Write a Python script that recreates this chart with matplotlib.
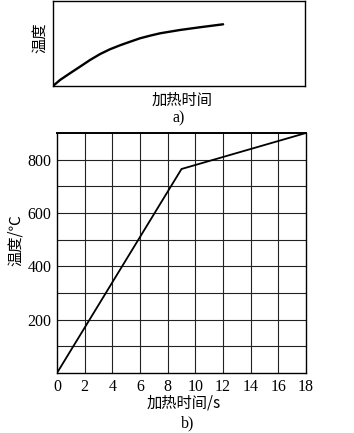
import matplotlib
matplotlib.use("Agg")
import matplotlib.pyplot as plt

plt.rcParams['font.family'] = ['Liberation Serif', 'Noto Sans CJK SC', 'DejaVu Sans']

# --- panel a): qualitative heating curve (arbitrary units 0..100) ---
a_time = [0, 2.8, 6.7, 10.7, 14.7, 18.7, 22.6, 26.6, 30.6, 34.5, 38.5, 42.5, 50.4, 58.3, 67.5]
a_temp = [0, 7.1, 14.9, 22.7, 30.6, 37.6, 43.2, 47.9, 52.1, 56.1, 59.2, 62.0, 65.9, 69.1, 72.6]

# --- panel b): measured heating curve ---
b_time = [0, 9.0, 18]
b_temp = [0, 765, 900]
b_xticks = [0, 2, 4, 6, 8, 10, 12, 14, 16, 18]
b_yticks = [200, 400, 600, 800]
b_ygrid = [100, 200, 300, 400, 500, 600, 700, 800, 900]

W, H = 354, 433
fig = plt.figure(figsize=(W / 100, H / 100), dpi=100)


def frac(x0, y0, x1, y1):
    return [x0 / W, 1 - y1 / H, (x1 - x0) / W, (y1 - y0) / H]


cjk = ['Noto Sans CJK SC', 'DejaVu Sans']

# panel a
ax1 = fig.add_axes(frac(53, 1, 305, 86))
ax1.plot(a_time, a_temp, color='black', lw=1.7, solid_capstyle='round',
         solid_joinstyle='round')
ax1.set_xlim(0, 100)
ax1.set_ylim(0, 100)
ax1.set_xticks([])
ax1.set_yticks([])
for s in ax1.spines.values():
    s.set_linewidth(1.0)
fig.text(40 / W, 1 - 38 / H, '温度', family=cjk, fontsize=11,
         rotation=90, ha='center', va='center')
fig.text(182 / W, 1 - 100 / H, '加热时间', family=cjk, fontsize=11,
         ha='center', va='center')
fig.text(179 / W, 1 - 118 / H, 'a)', fontsize=11.5, ha='center', va='center')

# panel b
ax2 = fig.add_axes(frac(57, 133, 306, 373))
ax2.plot(b_time, b_temp, color='black', lw=1.3)
ax2.set_xlim(0, 18)
ax2.set_ylim(0, 900)
ax2.set_xticks(b_xticks)
ax2.set_yticks(b_yticks)
for x in b_xticks[1:-1]:
    ax2.axvline(x, color='#222222', lw=0.8, zorder=0)
for y in b_ygrid[:-1]:
    ax2.axhline(y, color='#222222', lw=0.8, zorder=0)
ax2.tick_params(length=0, labelsize=11.5, pad=4)
for s in ax2.spines.values():
    s.set_linewidth(1.0)
ax2.spines['top'].set_linewidth(1.4)
fig.text(15 / W, 1 - 240 / H, '温度/℃', family=cjk, fontsize=11,
         rotation=90, ha='center', va='center')
fig.text(184 / W, 1 - 403 / H, '加热时间/s', family=cjk, fontsize=11,
         ha='center', va='center')
fig.text(188 / W, 1 - 423 / H, 'b)', fontsize=11.5, ha='center', va='center')

fig.savefig('out.png', dpi=100)
